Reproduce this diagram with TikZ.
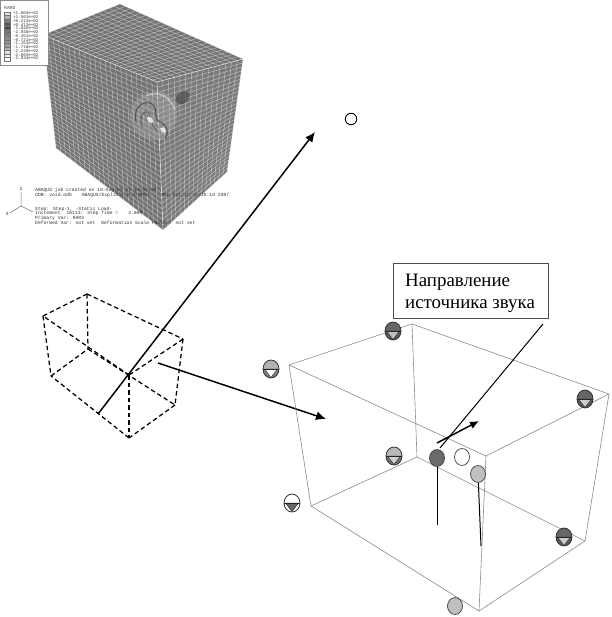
\documentclass[tikz,border=0pt]{standalone}
\usepackage{fontspec}
\setmainfont{Liberation Serif}
\newfontfamily\monofam{Liberation Mono}
\usetikzlibrary{calc,arrows.meta}
\tikzset{
  wire/.style={draw=black!45,line width=.6pt},
  dashedge/.style={draw=black,line width=1.25pt,dash pattern=on 4.5pt off 3pt},
  arrowline/.style={draw=black,line width=1.5pt,-{Latex[length=10pt,width=9pt]}},
  thinline/.style={draw=black,line width=1pt},
  meshline/.style={draw=white,line width=.45pt,opacity=.5},
  plainball/.style={circle,draw=black!75,line width=.7pt,minimum width=15pt,minimum height=15pt,inner sep=0pt,yscale=1.13},
  tinytext/.style={font=\monofam\fontsize{4.7}{5}\selectfont,text=black!80,anchor=west,inner sep=0pt},
}
\newcommand{\meshface}[6]{%
  \foreach \i in {0,...,#5}{\pgfmathsetmacro\fracA{\i/#5}
    \draw[meshline] ($(#1)!\fracA!(#2)$) -- ($(#4)!\fracA!(#3)$);}
  \foreach \j in {0,...,#6}{\pgfmathsetmacro\fracB{\j/#6}
    \draw[meshline] ($(#1)!\fracB!(#4)$) -- ($(#2)!\fracB!(#3)$);}
}
% name, x, y, top colour, triangle colour, rest colour
\newcommand{\sensorball}[6]{%
  \coordinate (#1) at (#2,#3);
  \begin{scope}[shift={(#2,#3)}]
    \fill[#6] (-8,0) arc[start angle=180,end angle=360,x radius=8,y radius=-9] -- cycle;
    \fill[#4] (-8,0) arc[start angle=180,end angle=0,x radius=8,y radius=-9] -- cycle;
    \filldraw[fill=#5,draw=black!80,line width=.5pt] (-6.5,0) -- (6.5,0) -- (0,8.5) -- cycle;
    \draw[black!80,line width=.8pt] (0,0) ellipse[x radius=8,y radius=9];
    \draw[black!85,line width=.7pt] (-8,0) -- (8,0);
  \end{scope}}
\begin{document}
\begin{tikzpicture}[x=1pt,y=-1pt]
\useasboundingbox (0,0) rectangle (611,617);
\fill[white] (0,0) rectangle (611,617);

% ---- meshed block
\coordinate (mT) at (120,4);
\coordinate (mL) at (43,35);
\coordinate (mR) at (243,59);
\coordinate (mF) at (157,82);
\coordinate (mBL) at (56,148);
\coordinate (mBR) at (227,172);
\coordinate (mB) at (163,230);
\fill[black!55] (mL) -- (mT) -- (mR) -- (mF) -- cycle;
\fill[black!55] (mL) -- (mF) -- (mB) -- (mBL) -- cycle;
\fill[black!52] (mF) -- (mR) -- (mBR) -- (mB) -- cycle;
\meshface{mL}{mT}{mR}{mF}{14}{24}
\meshface{mL}{mF}{mB}{mBL}{22}{28}
\meshface{mF}{mR}{mBR}{mB}{15}{28}

% ---- damage spot
\fill[black!30,opacity=.35] (130,118) .. controls (128,92) and (165,82) .. (176,104) .. controls (180,125) and (170,136) .. (158,140) .. controls (145,140) and (132,135) .. (130,118) -- cycle;
\fill[black!70,opacity=.7] (176,97) .. controls (180,90) and (190,90) .. (190,94) .. controls (188,101) and (184,106) .. (180,104) .. controls (176,103) and (175,100) .. (176,97) -- cycle;
\draw[black!70,line width=1.1pt,opacity=.85] (136,122) .. controls (133,110) and (140,101) .. (150,103) .. controls (160,108) and (152,118) .. (160,122) .. controls (167,125) and (170,132) .. (165,138);
\draw[black!65,line width=.9pt,opacity=.85] (143,127) .. controls (138,118) and (143,110) .. (148,112) .. controls (152,118) and (150,126) .. (157,130);
\fill[white,opacity=.75] (147,118) .. controls (150,115) and (153,118) .. (153,122) .. controls (151,125) and (148,122) .. (147,118) -- cycle;
\fill[white,opacity=.75] (160,128) .. controls (165,126) and (167,130) .. (165,133) .. controls (162,133) and (160,131) .. (160,128) -- cycle;
\draw[white,opacity=.4,line width=1.5pt] (146,96) .. controls (158,90) and (170,96) .. (175,110);

% ---- legend
\node[draw=black!45,line width=.6pt,fill=white,minimum width=48pt,minimum height=65pt,inner sep=0pt,anchor=north west] (legend) at (0,0) {};
\node[tinytext,text=black!70] (legtitle) at (4,8) {RARS};
\foreach \g [count=\k from 0] in {10,30,50,65,75,55,50,45,42,38,30,12,5,0}{
  \pgfmathsetmacro\yy{12+\k*3.5}
  \fill[black!\g] (4,\yy) rectangle (10,\yy+3.5);
  \draw[black!55,line width=.25pt] (4,\yy) rectangle (10,\yy+3.5);
}
\foreach \v [count=\k from 0] in {+1.803e+02,+1.501e+02,+0.213e+02,+0.413e+02,-1.045e+02,-2.848e+02,-0.451e+02,-0.721e+02,-1.151e+02,-1.710e+02,-2.220e+02,-2.603e+02,-2.934e+02}{
  \pgfmathsetmacro\yy{13.5+\k*3.75}
  \node[tinytext,font=\monofam\fontsize{4.2}{4}\selectfont] at (13,\yy) {\v};
}

% ---- triad and caption
\coordinate (t0) at (21,206);
\coordinate (t1) at (21,192);
\coordinate (t2) at (10,213);
\coordinate (t3) at (33,212);
\draw[black!55,line width=.5pt] (t0) -- (t1) (t0) -- (t2) (t0) -- (t3);
\node[tinytext,anchor=center] (tz) at (21,189) {2};
\node[tinytext,anchor=center] (tx) at (7,214) {3};
\node[tinytext] (c1) at (35,190) {ABAQUS job created on 10-Aug-07 at 16:55:09};
\node[tinytext] (c2) at (35,195) {ODB: void.odb\hspace*{10pt}ABAQUS/Explicit 6.4-PR11\hspace*{12pt}Mon Oct 12 13:18:10 2007};
\node[tinytext] (c3) at (35,209) {Step: Step-1, -Static Load-};
\node[tinytext] (c4) at (35,213.5) {Increment\hspace*{6pt}10113: Step Time =\hspace*{10pt}2.000};
\node[tinytext] (c5) at (35,218) {Primary Var: RARS};
\node[tinytext] (c6) at (35,222.5) {Deformed Var: not set\hspace*{6pt}Deformation Scale Factor: not set};

% ---- dashed block
\coordinate (dA) at (43,316);
\coordinate (dB) at (87,294);
\coordinate (dC) at (183,339);
\coordinate (dD) at (129,375);
\coordinate (dE) at (51,376);
\coordinate (dF) at (88,349);
\coordinate (dG) at (175,405);
\coordinate (dH) at (129,438);
\draw[dashedge] (dA) -- (dB);
\draw[dashedge] (dB) -- (dC);
\draw[dashedge] (dC) -- (dD);
\draw[dashedge] (dD) -- (dA);
\draw[dashedge] (dE) -- (dF);
\draw[dashedge] (dF) -- (dG);
\draw[dashedge] (dG) -- (dH);
\draw[dashedge] (dH) -- (dE);
\draw[dashedge] (dA) -- (dE);
\draw[dashedge] (dB) -- (dF);
\draw[dashedge] (dC) -- (dG);
\draw[dashedge] (dD) -- (dH);

% ---- long arrows and far source
\node[circle,draw=black,line width=.9pt,fill=white,minimum size=11.5pt,inner sep=0pt] (far) at (351,119) {};
\coordinate (a1s) at (98,414);
\coordinate (a1e) at (315,132);
\coordinate (a2s) at (158,363);
\coordinate (a2e) at (326,419);
\draw[arrowline] (a1s) -- (a1e);
\draw[arrowline] (a2s) -- (a2e);

% ---- wire box
\coordinate (P1) at (289,365);
\coordinate (P2) at (412,324);
\coordinate (P3) at (311,506);
\coordinate (P4) at (417,457);
\coordinate (P5) at (609,394);
\coordinate (P6) at (486,456);
\coordinate (P7) at (585,541);
\coordinate (P8) at (479,611);
\draw[wire] (P1) -- (P2);
\draw[wire] (P2) -- (P5);
\draw[wire] (P5) -- (P6);
\draw[wire] (P6) -- (P1);
\draw[wire] (P3) -- (P4);
\draw[wire] (P4) -- (P7);
\draw[wire] (P7) -- (P8);
\draw[wire] (P8) -- (P3);
\draw[wire] (P1) -- (P3);
\draw[wire] (P2) -- (P4);
\draw[wire] (P5) -- (P7);
\draw[wire] (P6) -- (P8);

% ---- sensors
\sensorball{s1}{393}{331}{black!60}{black!25}{black!65}
\sensorball{s2}{585}{399}{black!60}{black!20}{black!65}
\sensorball{s3}{394}{456}{black!28}{black!18}{black!55}
\sensorball{s4}{564}{537}{black!60}{black!20}{black!65}
\sensorball{s5}{271}{369}{black!30}{white}{black!50}
\sensorball{s6}{292}{503}{white}{black!60}{white}

% ---- label
\node[draw=black!70,line width=1pt,fill=white,minimum width=155pt,minimum height=55pt,inner sep=0pt,anchor=north west] (lab) at (393,263) {};
\node[anchor=base west,inner sep=0pt,font=\fontsize{18.9}{22}\selectfont] (lab1) at (405,286) {Направление};
\node[anchor=base west,inner sep=0pt,font=\fontsize{18.9}{22}\selectfont] (lab2) at (405,308) {источника звука};

% ---- source lines
\coordinate (l1s) at (543,324);
\coordinate (l1e) at (440,448);
\draw[thinline] (l1s) -- (l1e);
\coordinate (sa) at (437,443);
\coordinate (sb) at (479,421);
\draw[draw=black,line width=1.5pt,-{Latex[length=9pt,width=8pt]}] (sa) -- (sb);
\node[plainball,fill=black!58] (ball1) at (437,458) {};
\node[plainball,fill=white] (ball2) at (462,457) {};
\node[plainball,fill=black!25] (ball3) at (478,474) {};
\node[plainball,fill=black!25] (ball4) at (455,606) {};
\coordinate (v1) at (437,525);
\coordinate (v2) at (481,546);
\draw[thinline] (ball1) -- (v1);
\draw[thinline] (ball3) -- (v2);
\end{tikzpicture}
\end{document}
